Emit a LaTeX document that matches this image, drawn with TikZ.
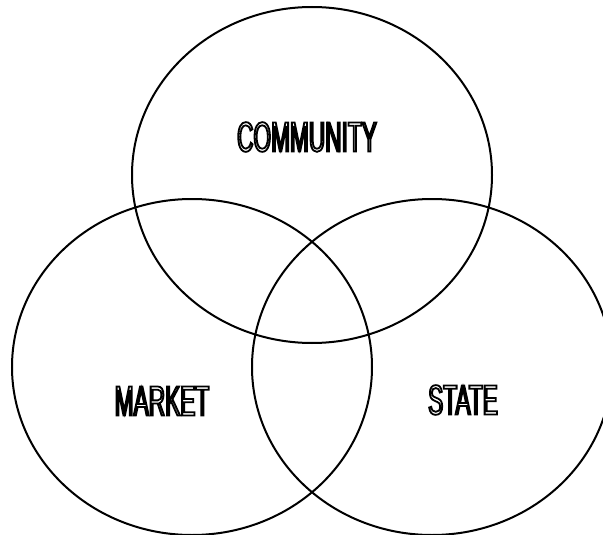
\documentclass[tikz,border=0pt]{standalone}
\usepackage{fontspec}
\setmainfont{Liberation Sans}
\newfontfamily\narrowfont[FakeStretch=0.54]{Liberation Sans}
\usetikzlibrary{positioning}
\newcommand{\hollow}[1]{\special{pdf:literal direct 1 Tr 1.8 w}#1\special{pdf:literal direct 0 Tr}}

\begin{document}
\begin{tikzpicture}[x=1pt, y=-1pt,
sphere/.style={line width=2pt},
sphere label/.style={font=\narrowfont\fontsize{42}{42}\selectfont, inner sep=0pt},
]
\clip (0,0) rectangle (603,535);
\coordinate (C) at (312,175);
\coordinate (M) at (192,367);
\coordinate (S) at (432,367);
\draw[sphere] (C) ellipse [x radius=180, y radius=168];
\draw[sphere] (M) ellipse [x radius=180, y radius=168];
\draw[sphere] (S) ellipse [x radius=180, y radius=168];
\node[sphere label] (community) at (307,137) {\hollow{COMMUNITY}};
\node[sphere label] (market) at (162,401) {\hollow{MARKET}};
\node[sphere label] (state) at (463,400) {\hollow{STATE}};

%\draw[black] (C) -- (M);
\end{tikzpicture}
\end{document}
